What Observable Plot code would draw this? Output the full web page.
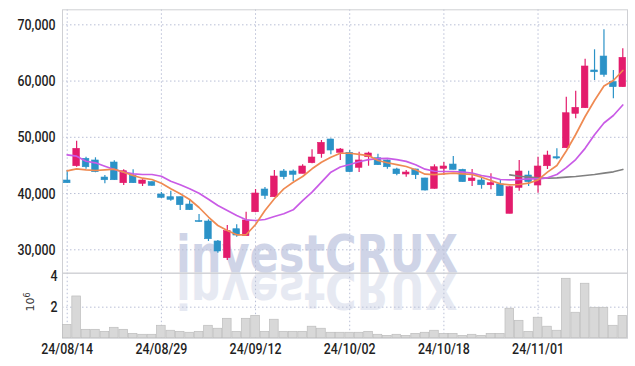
<!DOCTYPE html>
<html>
<head>
<meta charset="utf-8">
<script src="https://cdn.jsdelivr.net/npm/d3@7"></script>
<script src="https://cdn.jsdelivr.net/npm/@observablehq/plot@0.6"></script>
<style>
  html, body { margin: 0; padding: 0; background: #fff; }
  #chart { position: relative; width: 635px; height: 366px; overflow: hidden; }
  #wm, #price, #volume { position: absolute; left: 0; }
  #wm { top: 0; }
  #price { top: 0; }
  #volume { top: 272px; }
</style>
</head>
<body>
<div id="chart">
  <svg id="wm" width="635" height="366" xmlns="http://www.w3.org/2000/svg" xmlns:xlink="http://www.w3.org/1999/xlink">
    <text id="wmText" x="176" y="272" font-family="DejaVu Sans, sans-serif" font-weight="bold" font-size="52"
          textLength="282" lengthAdjust="spacingAndGlyphs" fill="#cfd4e7">investCRUX</text>
    <use href="#wmText" xlink:href="#wmText" opacity="0.5" transform="translate(0,544) scale(1,-1)"></use>
    <text transform="translate(34,302) rotate(-90)" text-anchor="middle" font-family="DejaVu Sans, sans-serif"
          font-size="11" fill="#333">10<tspan dy="-4" font-size="8">6</tspan></text>
  </svg>
  <div id="price"></div>
  <div id="volume"></div>
</div>
<script>
const dates = ["24/08/14","24/08/16","24/08/19","24/08/20","24/08/21","24/08/22","24/08/23","24/08/26","24/08/27","24/08/28",
  "24/08/29","24/08/30","24/09/02","24/09/03","24/09/04","24/09/05","24/09/06","24/09/09","24/09/10","24/09/11",
  "24/09/12","24/09/13","24/09/19","24/09/20","24/09/23","24/09/24","24/09/25","24/09/26","24/09/27","24/09/30",
  "24/10/02","24/10/04","24/10/07","24/10/08","24/10/10","24/10/11","24/10/14","24/10/15","24/10/16","24/10/17",
  "24/10/18","24/10/21","24/10/22","24/10/23","24/10/24","24/10/25","24/10/28","24/10/29","24/10/30","24/10/31",
  "24/11/01","24/11/04","24/11/05","24/11/06","24/11/07","24/11/08","24/11/11","24/11/12","24/11/13","24/11/14"];

const opens = [42320,44860,46180,45880,42850,45520,41840,43160,41730,42020,
  39830,39350,39350,38050,35100,35030,31480,28510,33660,32420,
  36680,40720,39350,43920,43920,43510,45400,47000,49610,47240,
  47240,44580,46460,46280,45880,44280,43390,44280,42680,40840,
  44400,45160,44220,42200,42320,41480,41610,36400,41020,43210,
  41430,44860,46460,48060,54180,55170,61880,64360,59800,58910];
const highs = [44100,49310,46460,46360,43210,45820,44220,44220,42450,42100,
  40190,40420,39400,38940,36280,35330,31650,34320,34440,36680,
  40720,41080,44100,44280,44200,45110,47780,49430,49700,48000,
  47650,47350,47350,47000,45950,44510,44100,44300,42700,45110,
  45520,46590,44300,44280,42680,43510,42440,41250,45880,43970,
  46460,47530,47960,57130,58200,63880,65560,69110,61880,65730];
const lows = [41800,44680,44330,43700,41730,42300,41430,41800,41250,41300,
  39120,38640,36990,37000,34900,31480,29400,28100,32240,32400,
  36600,38940,39300,42440,42140,43500,45300,46280,46890,45880,
  43700,43740,44860,45000,44330,43160,42910,42500,40450,40800,
  43210,44200,42000,41250,40770,40670,39500,36400,40420,41250,
  40060,44280,46000,48000,53290,55100,60100,60680,56840,58900];
const closes = [41840,47950,44680,43800,42370,42370,43970,41840,42320,41380,
  39240,38890,37930,37040,34950,31880,29700,33310,32540,35210,
  40010,39600,43030,42910,43330,44810,46410,49020,47650,47830,
  43800,45880,47120,45040,44680,43440,43740,43260,40540,44680,
  44810,44220,42020,42680,41480,41840,39530,41130,43920,42020,
  44810,46760,46230,54280,55240,62590,61570,61110,58910,64130];
const volumes = [860000,2690000,540000,540000,410000,670000,540000,280000,220000,220000,
  800000,480000,410000,350000,410000,800000,610000,1250000,410000,1250000,
  1440000,410000,1190000,410000,410000,410000,740000,610000,350000,350000,
  350000,350000,410000,220000,150000,220000,150000,280000,350000,480000,
  280000,280000,150000,220000,150000,280000,280000,1900000,1120000,410000,
  1320000,740000,480000,3830000,1640000,3510000,1960000,1960000,800000,1440000];
const ma5 = [44040,44400,44220,44100,44220,44330,43800,43210,42730,42500,
  41840,40840,39960,38940,37520,35830,34320,33430,32670,32670,
  34500,36990,39070,40840,42020,43030,44400,45570,46460,47170,
  47170,46980,46760,45880,45470,45130,44810,44220,43440,43350,
  43510,43620,43510,43390,42910,42320,41730,41560,41610,41840,
  42440,43800,44990,47560,50500,53700,56540,59120,60100,61880];
const ma10 = [46890,46640,45750,45470,44860,44280,43800,43510,43390,43390,
  43080,42200,41560,40840,40060,39000,37880,36990,36100,35330,
  35210,35390,35920,36400,37110,38760,40240,42020,43800,44720,
  45160,45660,46020,46200,46270,46020,45730,45130,44330,43970,
  43920,43920,43800,43620,43210,42910,42500,42440,42500,42620,
  42620,42800,43390,44600,46050,48040,50460,52540,53880,55740];
const ma60 = [null,null,null,null,null,null,null,null,null,null,
  null,null,null,null,null,null,null,null,null,null,
  null,null,null,null,null,null,null,null,null,null,
  null,null,null,null,null,null,null,null,null,null,
  null,null,null,null,null,null,null,43330,43080,42910,
  42800,42730,42800,42910,43030,43210,43390,43620,43870,44280];

const priceTicks = [30000, 40000, 50000, 60000, 70000];
const volumeTicks = [2000000, 4000000];
const dateTicks = ["24/08/14","24/08/29","24/09/12","24/10/02","24/10/18","24/11/01"];

const UP = "#e31c6c", DOWN = "#2b92c7";
const GRID = "#b9bfd6", FRAME = "#cfd0d4";

const rows = dates.map((date, i) => ({
  i, date, open: opens[i], high: highs[i], low: lows[i], close: closes[i],
  volume: volumes[i], ma5: ma5[i], ma10: ma10[i], ma60: ma60[i]
}));
const tickIdx = dateTicks.map(d => dates.indexOf(d));
const col = d => d.close >= d.open ? UP : DOWN;
const left = d => d.i - 0.5, right = d => d.i + 0.5;
const xDomain = [-0.5, dates.length - 0.5];
const fmt = d3.format(",");

const style = {background: "transparent", fontFamily: "Roboto, 'Liberation Sans', sans-serif", fontWeight: 500, fontSize: "15.5px", color: "#1f1f1f", overflow: "visible"};

function condense(svg) {
  svg.querySelectorAll("text").forEach(t => {
    const x = +(t.getAttribute("x") || 0);
    const tr = t.getAttribute("transform") || "";
    t.setAttribute("x", 0);
    t.setAttribute("transform", `${tr} translate(${x},0) scale(0.8,1)`.trim());
  });
  return svg;
}

const price = Plot.plot({
  width: 635, height: 273,
  marginLeft: 62, marginRight: 8, marginTop: 9.3, marginBottom: 0.3,
  style,
  x: {type: "linear", domain: xDomain, axis: null},
  y: {domain: [25840, 72670], ticks: priceTicks, tickFormat: d => fmt(d), tickSize: 0, tickPadding: 7, label: null},
  marks: [
    Plot.ruleY(priceTicks, {stroke: GRID, strokeDasharray: "1.5,2.5"}),
    Plot.ruleX(tickIdx, {stroke: GRID, strokeDasharray: "1.5,2.5"}),
    Plot.frame({stroke: FRAME}),
    Plot.ruleX(rows, {x: "i", y1: "low", y2: "high", stroke: col, strokeWidth: 1.2}),
    Plot.rect(rows, {x1: left, x2: right, y1: "open", y2: "close", fill: col, stroke: col, strokeWidth: 0.6, insetLeft: 1.4, insetRight: 1.4}),
    Plot.line(rows, {x: "i", y: "ma60", filter: d => d.ma60 != null, stroke: "#808080", strokeWidth: 1.7}),
    Plot.line(rows, {x: "i", y: "ma10", stroke: "#c95be6", strokeWidth: 1.7}),
    Plot.line(rows, {x: "i", y: "ma5", stroke: "#ef8a52", strokeWidth: 1.7})
  ]
});
document.getElementById("price").appendChild(condense(price));

const volume = Plot.plot({
  width: 635, height: 94,
  marginLeft: 62, marginRight: 8, marginTop: 0.7, marginBottom: 28.3,
  style,
  x: {type: "linear", domain: xDomain, ticks: tickIdx, tickFormat: i => dates[i], tickSize: 0, tickPadding: 5, label: null},
  y: {domain: [0, 4190000], ticks: volumeTicks, tickFormat: d => d / 1e6, tickSize: 0, tickPadding: 5, label: null},
  marks: [
    Plot.ruleY([2000000], {stroke: GRID, strokeDasharray: "1.5,2.5"}),
    Plot.ruleX(tickIdx, {stroke: GRID, strokeDasharray: "1.5,2.5"}),
    Plot.frame({stroke: FRAME}),
    Plot.rect(rows, {x1: left, x2: right, y1: 0, y2: "volume", fill: "#d8d8d8", stroke: "#bdbdbd", strokeWidth: 0.7, insetLeft: 0.4, insetRight: 0.4})
  ]
});
document.getElementById("volume").appendChild(condense(volume));
</script>
</body>
</html>
